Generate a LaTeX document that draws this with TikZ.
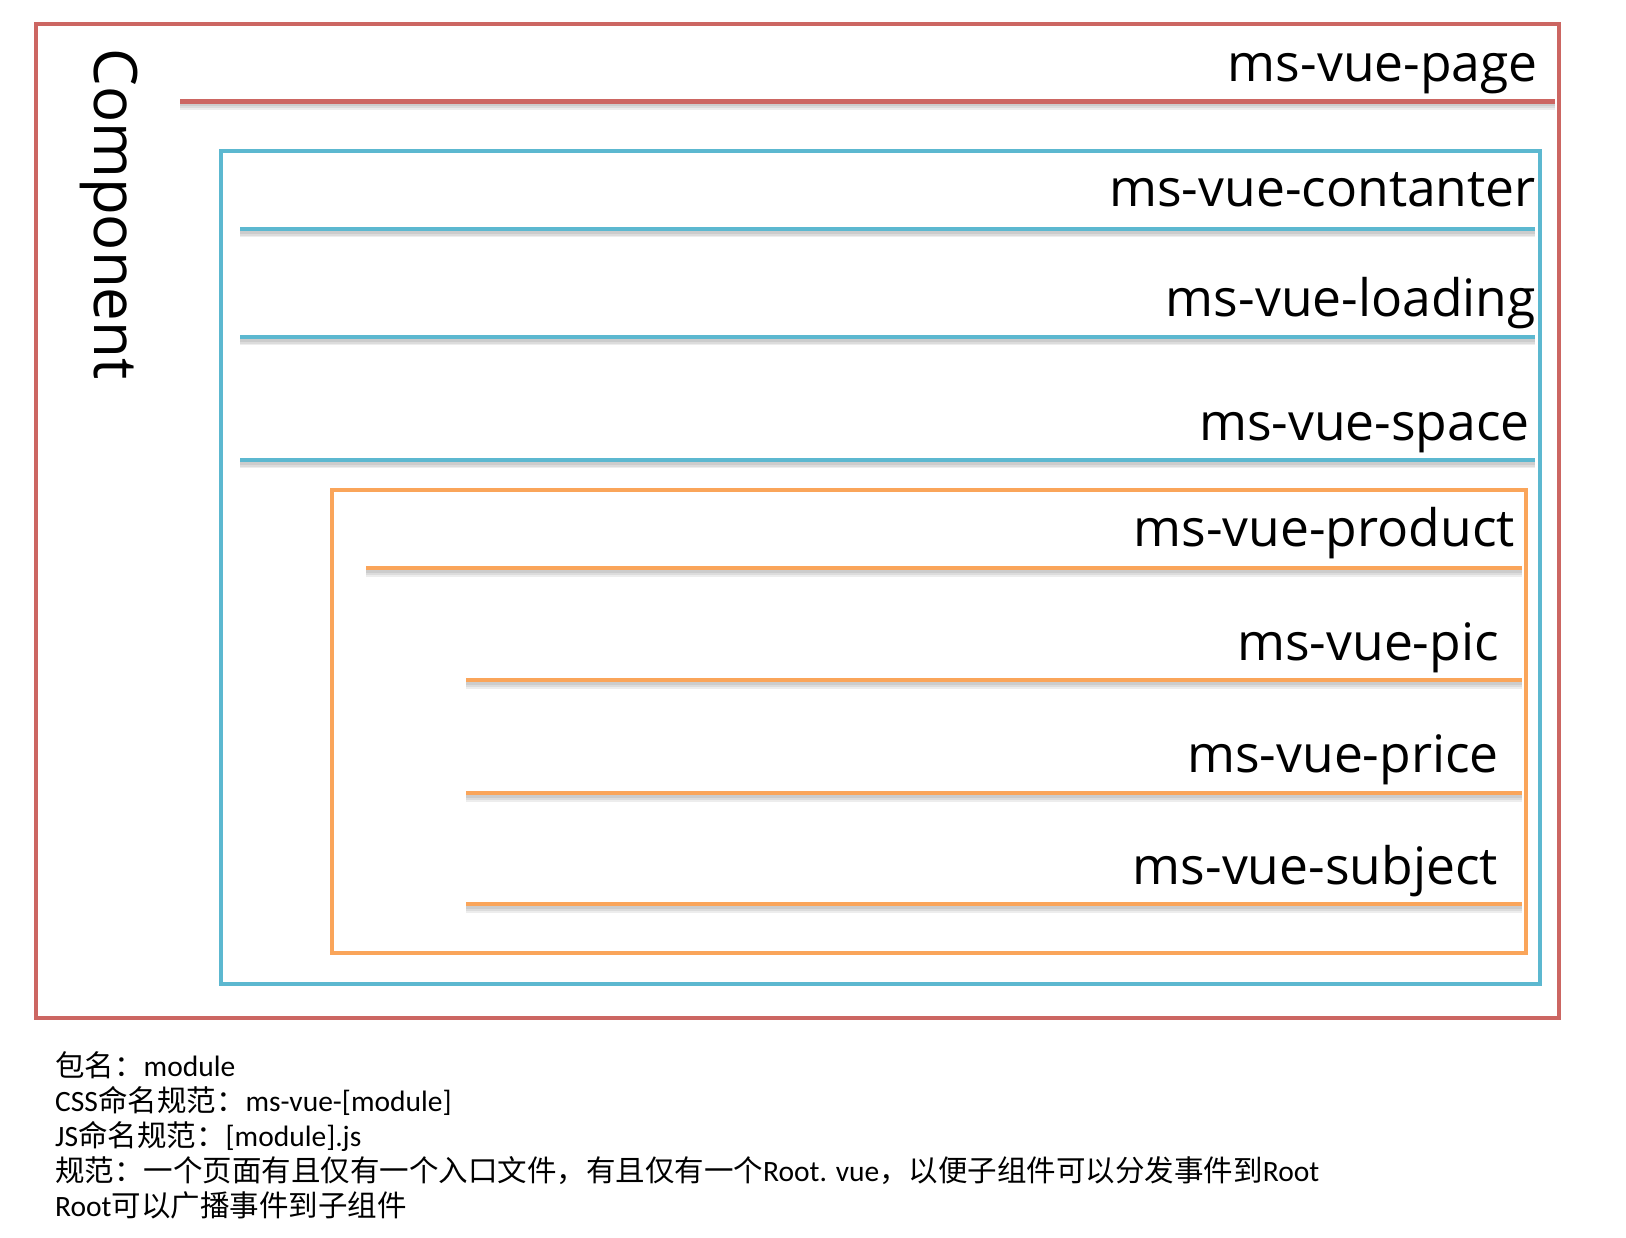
\documentclass[tikz,border=0pt]{standalone}
\usepackage{fontspec}
\setmainfont{Open Sans}
\newfontfamily\notefont{Carlito}
\newfontfamily\cjkfont{Noto Sans CJK SC}
\definecolor{pagered}{HTML}{CC6662}
\definecolor{contblue}{HTML}{5CB8D0}
\definecolor{prodorange}{HTML}{FAA55A}
\tikzset{
  boxline/.style={line width=4pt},
  sepline/.style={line width=4.5pt},
  shadowline/.style={black, opacity=0.07},
  label/.style={anchor=base east, inner sep=0pt, font=\fontsize{51.6}{51.6}\selectfont},
  note/.style={anchor=base west, inner sep=0pt, font=\fontsize{29.5}{29.5}\selectfont\notefont},
}
\newcommand{\sepwithshadow}[3]{%
  \draw[shadowline, line width=9pt] ([yshift=-4pt]#2) -- ([yshift=-4pt]#3);
  \draw[shadowline, line width=6.5pt] ([yshift=-3.5pt]#2) -- ([yshift=-3.5pt]#3);
  \draw[shadowline, line width=4pt] ([yshift=-3pt]#2) -- ([yshift=-3pt]#3);
  \draw[sepline,#1] (#2) -- (#3);
}
\begin{document}
\begin{tikzpicture}[x=1pt,y=-1pt]
\useasboundingbox[fill=white] (0,0) rectangle (1626,1238);

% boxes
\draw[boxline,pagered] (36,24) rectangle (1559,1017.5);
\draw[boxline,contblue] (221,150.7) rectangle (1540,984);
\draw[boxline,prodorange] (331.5,490) rectangle (1526,953);

% rotated title
\node[rotate=-90, anchor=base west, inner sep=0pt, font=\fontsize{60}{60}\selectfont] (comp) at (94,48) {Component};

% separator endpoints
\coordinate (r1a) at (180,101.5);  \coordinate (r1b) at (1555,101.5);
\coordinate (b1a) at (240,229);    \coordinate (b1b) at (1535,229);
\coordinate (b2a) at (240,337);    \coordinate (b2b) at (1535,337);
\coordinate (b3a) at (240,460);    \coordinate (b3b) at (1535,460);
\coordinate (o1a) at (366,568);    \coordinate (o1b) at (1522,568);
\coordinate (o2a) at (466,680);    \coordinate (o2b) at (1522,680);
\coordinate (o3a) at (466,793);    \coordinate (o3b) at (1522,793);
\coordinate (o4a) at (466,904);    \coordinate (o4b) at (1522,904);

\sepwithshadow{pagered}{r1a}{r1b}
\sepwithshadow{contblue}{b1a}{b1b}
\sepwithshadow{contblue}{b2a}{b2b}
\sepwithshadow{contblue}{b3a}{b3b}
\sepwithshadow{prodorange}{o1a}{o1b}
\sepwithshadow{prodorange}{o2a}{o2b}
\sepwithshadow{prodorange}{o3a}{o3b}
\sepwithshadow{prodorange}{o4a}{o4b}

% labels
\node[label] (page) at (1538,82) {ms-vue-page};
\node[label] (cont) at (1536,207) {ms-vue-contanter};
\node[label] (load) at (1536,317) {ms-vue-loading};
\node[label] (space) at (1530,441) {ms-vue-space};
\node[label] (prod) at (1515,547) {ms-vue-product};
\node[label] (pic) at (1499,660) {ms-vue-pic};
\node[label] (price) at (1499,772) {ms-vue-price};
\node[label] (subj) at (1498,884) {ms-vue-subject};

% notes
\node[note] (n1) at (55,1076) {{\cjkfont 包名：}module};
\node[note] (n2) at (55,1111) {CSS{\cjkfont 命名规范：}ms-vue-[module]};
\node[note] (n3) at (55,1146) {JS{\cjkfont 命名规范：}[module].js};
\node[note] (n4) at (55,1181) {{\cjkfont 规范：一个页面有且仅有一个入口文件，有且仅有一个}Root. vue{\cjkfont ，以便子组件可以分发事件到}Root};
\node[note] (n5) at (55,1216) {Root{\cjkfont 可以广播事件到子组件}};
\end{tikzpicture}
\end{document}
